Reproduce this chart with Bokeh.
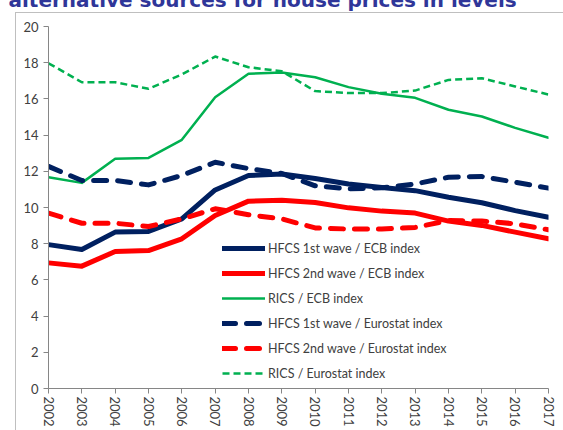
from bokeh.plotting import figure
from bokeh.models import FixedTicker, Legend, LegendItem, Range1d
from bokeh.embed import file_html
from bokeh.resources import INLINE

years = list(range(2002, 2018))
year_labels = [str(y) for y in years]
y_ticks = list(range(0, 21, 2))

hfcs1_ecb = [7.95, 7.68, 8.64, 8.68, 9.37, 10.97, 11.77, 11.85, 11.6, 11.3, 11.1, 10.93, 10.57, 10.26, 9.83, 9.46]
hfcs2_ecb = [6.94, 6.76, 7.57, 7.62, 8.27, 9.56, 10.35, 10.4, 10.28, 9.98, 9.8, 9.69, 9.25, 9.01, 8.64, 8.27]
rics_ecb = [11.67, 11.36, 12.69, 12.74, 13.74, 16.09, 17.39, 17.46, 17.2, 16.65, 16.28, 16.06, 15.4, 15.03, 14.4, 13.85]
hfcs1_euro = [12.27, 11.49, 11.49, 11.25, 11.77, 12.5, 12.15, 11.88, 11.2, 11.03, 11.09, 11.3, 11.67, 11.71, 11.4, 11.07]
hfcs2_euro = [9.69, 9.13, 9.13, 8.95, 9.37, 9.93, 9.6, 9.37, 8.87, 8.81, 8.81, 8.9, 9.28, 9.25, 9.1, 8.77]
rics_euro = [17.97, 16.92, 16.92, 16.56, 17.35, 18.34, 17.75, 17.53, 16.43, 16.32, 16.32, 16.46, 17.05, 17.14, 16.69, 16.24]

names = ["HFCS 1st wave / ECB index", "HFCS 2nd wave / ECB index", "RICS / ECB index",
         "HFCS 1st wave / Eurostat index", "HFCS 2nd wave / Eurostat index", "RICS / Eurostat index"]
title_text = "alternative sources for house prices in levels"

NAVY = "#002060"
RED = "#FF0000"
GREEN = "#00B050"
GREY = "#404040"
BOX = "#BFBFBF"
FONT = "Lato"

p = figure(width=563, height=470, output_backend="svg", toolbar_location=None,
           x_range=Range1d(2002, 2017), y_range=Range1d(0, 20),
           min_border_left=48, min_border_right=15, min_border_top=66, min_border_bottom=42)
p.styles = {
    "margin-top": "-40px",
    "margin-left": "0px",
    "background": (f"linear-gradient({BOX},{BOX}) 15px 52px / 1px 100% no-repeat, "
                   f"linear-gradient({BOX},{BOX}) 15px 52px / 100% 1px no-repeat, white"),
}
p.outline_line_color = None
p.xgrid.visible = False
p.ygrid.visible = False
p.background_fill_color = "white"
p.border_fill_color = None

p.title.text = title_text
p.title.align = "left"
p.title.offset = -40
p.title.standoff = 25
p.title.vertical_align = "top"
p.title.text_font = "DejaVu Sans"
p.title.text_font_style = "bold"
p.title.text_font_size = "20px"
p.title.text_color = "#2F3699"

styles = [
    (hfcs1_ecb, NAVY, 5, None, "round"),
    (hfcs2_ecb, RED, 5, None, "round"),
    (rics_ecb, GREEN, 2.5, None, "round"),
    (hfcs1_euro, NAVY, 5, "13 11", "round"),
    (hfcs2_euro, RED, 5, "13 11", "round"),
    (rics_euro, GREEN, 2.5, "7 4", "butt"),
]
items = []
for (data, color, lw, dash, cap), name in zip(styles, names):
    kw = dict(line_color=color, line_width=lw, line_cap=cap, line_join="round")
    if dash:
        kw["line_dash"] = dash
    r = p.line(years, data, **kw)
    items.append(LegendItem(label=name, renderers=[r]))

legend = Legend(items=items, location=(174, 5), padding=0, margin=0, spacing=5,
                glyph_width=43, glyph_height=20, label_height=20, label_standoff=3,
                label_text_font=FONT, label_text_font_size="12.5px", label_text_color=GREY,
                background_fill_alpha=0, border_line_color=None)
p.add_layout(legend, "center")

for ax in (p.xaxis[0], p.yaxis[0]):
    ax.axis_line_color = "#868686"
    ax.major_tick_line_color = "#868686"
    ax.minor_tick_line_color = None
    ax.major_tick_out = 5
    ax.major_tick_in = 0
    ax.major_label_text_font = FONT
    ax.major_label_text_font_size = "13px"
    ax.major_label_text_color = GREY

p.xaxis.ticker = FixedTicker(ticks=years)
p.xaxis.major_label_overrides = {y: s for y, s in zip(years, year_labels)}
p.xaxis.major_label_orientation = "vertical"
p.xaxis.major_label_standoff = 3
p.yaxis.ticker = FixedTicker(ticks=y_ticks)
p.yaxis.major_label_standoff = 5

open("out.html", "w").write(file_html(p, INLINE))
